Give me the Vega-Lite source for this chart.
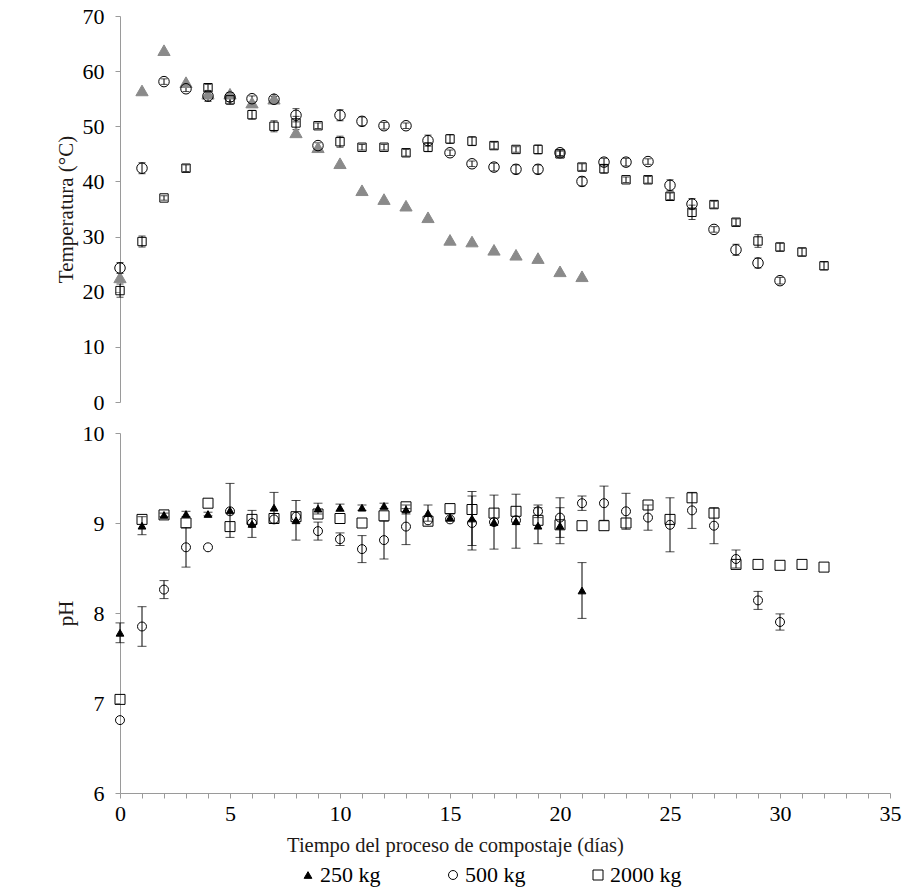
{
  "$schema": "https://vega.github.io/schema/vega-lite/v6.json",
  "padding": {"left": 55, "top": 5, "right": 5, "bottom": 5},
  "background": "white",
  "config": {
    "font": "Liberation Serif",
    "view": {"stroke": null},
    "legend": {"labelFont": "Liberation Serif", "titleFont": "Liberation Serif"},
    "axis": {"grid": false, "domainColor": "#9a9a9a", "tickColor": "#9a9a9a", "tickSize": 5, "labelColor": "black", "labelFontSize": 22, "titleFontSize": 21, "titleFontWeight": "normal", "titleColor": "#1e1a18", "labelFont": "Liberation Serif", "titleFont": "Liberation Serif"}
  },
  "datasets": {
    "temp": [
      {"dia":0,"serie":"250 kg","valor":22.6,"error":0},{"dia":1,"serie":"250 kg","valor":56.5,"error":0},{"dia":2,"serie":"250 kg","valor":63.8,"error":0},{"dia":3,"serie":"250 kg","valor":58.0,"error":0},{"dia":4,"serie":"250 kg","valor":55.9,"error":0},{"dia":5,"serie":"250 kg","valor":55.9,"error":0},{"dia":6,"serie":"250 kg","valor":54.3,"error":0},{"dia":7,"serie":"250 kg","valor":55.0,"error":0},{"dia":8,"serie":"250 kg","valor":48.9,"error":0},{"dia":9,"serie":"250 kg","valor":46.2,"error":0},{"dia":10,"serie":"250 kg","valor":43.3,"error":0},{"dia":11,"serie":"250 kg","valor":38.4,"error":0},{"dia":12,"serie":"250 kg","valor":36.8,"error":0},{"dia":13,"serie":"250 kg","valor":35.6,"error":0},{"dia":14,"serie":"250 kg","valor":33.5,"error":0},{"dia":15,"serie":"250 kg","valor":29.4,"error":0},{"dia":16,"serie":"250 kg","valor":29.1,"error":0},{"dia":17,"serie":"250 kg","valor":27.6,"error":0},{"dia":18,"serie":"250 kg","valor":26.7,"error":0},{"dia":19,"serie":"250 kg","valor":26.1,"error":0},{"dia":20,"serie":"250 kg","valor":23.7,"error":0},{"dia":21,"serie":"250 kg","valor":22.8,"error":0},
      {"dia":0,"serie":"500 kg","valor":24.3,"error":1},{"dia":1,"serie":"500 kg","valor":42.4,"error":1},{"dia":2,"serie":"500 kg","valor":58.1,"error":0.5},{"dia":3,"serie":"500 kg","valor":56.8,"error":0.5},{"dia":4,"serie":"500 kg","valor":55.5,"error":1},{"dia":5,"serie":"500 kg","valor":55.3,"error":0.8},{"dia":6,"serie":"500 kg","valor":55.0,"error":0.5},{"dia":7,"serie":"500 kg","valor":54.9,"error":0.5},{"dia":8,"serie":"500 kg","valor":52.0,"error":1.2},{"dia":9,"serie":"500 kg","valor":46.5,"error":0.5},{"dia":10,"serie":"500 kg","valor":52.0,"error":1},{"dia":11,"serie":"500 kg","valor":50.9,"error":0.8},{"dia":12,"serie":"500 kg","valor":50.1,"error":0.6},{"dia":13,"serie":"500 kg","valor":50.1,"error":0.5},{"dia":14,"serie":"500 kg","valor":47.4,"error":1},{"dia":15,"serie":"500 kg","valor":45.2,"error":0.5},{"dia":16,"serie":"500 kg","valor":43.2,"error":0.5},{"dia":17,"serie":"500 kg","valor":42.6,"error":0.7},{"dia":18,"serie":"500 kg","valor":42.2,"error":0.8},{"dia":19,"serie":"500 kg","valor":42.2,"error":0.8},{"dia":20,"serie":"500 kg","valor":45.2,"error":0.5},{"dia":21,"serie":"500 kg","valor":40.0,"error":0.8},{"dia":22,"serie":"500 kg","valor":43.5,"error":0.7},{"dia":23,"serie":"500 kg","valor":43.5,"error":0.7},{"dia":24,"serie":"500 kg","valor":43.6,"error":0.5},{"dia":25,"serie":"500 kg","valor":39.3,"error":1},{"dia":26,"serie":"500 kg","valor":35.9,"error":1},{"dia":27,"serie":"500 kg","valor":31.3,"error":0.5},{"dia":28,"serie":"500 kg","valor":27.6,"error":1},{"dia":29,"serie":"500 kg","valor":25.2,"error":0.9},{"dia":30,"serie":"500 kg","valor":22.0,"error":0.6},
      {"dia":0,"serie":"2000 kg","valor":20.2,"error":1.2},{"dia":1,"serie":"2000 kg","valor":29.1,"error":1},{"dia":2,"serie":"2000 kg","valor":37.0,"error":0.4},{"dia":3,"serie":"2000 kg","valor":42.4,"error":0.6},{"dia":4,"serie":"2000 kg","valor":57.0,"error":0.6},{"dia":5,"serie":"2000 kg","valor":54.8,"error":0.8},{"dia":6,"serie":"2000 kg","valor":52.1,"error":0.8},{"dia":7,"serie":"2000 kg","valor":50.0,"error":1},{"dia":8,"serie":"2000 kg","valor":50.6,"error":1.2},{"dia":9,"serie":"2000 kg","valor":50.1,"error":0.5},{"dia":10,"serie":"2000 kg","valor":47.2,"error":1},{"dia":11,"serie":"2000 kg","valor":46.2,"error":0.5},{"dia":12,"serie":"2000 kg","valor":46.2,"error":0.5},{"dia":13,"serie":"2000 kg","valor":45.2,"error":0.6},{"dia":14,"serie":"2000 kg","valor":46.2,"error":0.8},{"dia":15,"serie":"2000 kg","valor":47.7,"error":0.8},{"dia":16,"serie":"2000 kg","valor":47.3,"error":0.8},{"dia":17,"serie":"2000 kg","valor":46.5,"error":0.6},{"dia":18,"serie":"2000 kg","valor":45.8,"error":0.5},{"dia":19,"serie":"2000 kg","valor":45.8,"error":0.8},{"dia":20,"serie":"2000 kg","valor":45.0,"error":0.5},{"dia":21,"serie":"2000 kg","valor":42.6,"error":0.6},{"dia":22,"serie":"2000 kg","valor":42.3,"error":0.8},{"dia":23,"serie":"2000 kg","valor":40.3,"error":0.5},{"dia":24,"serie":"2000 kg","valor":40.3,"error":0.6},{"dia":25,"serie":"2000 kg","valor":37.3,"error":0.6},{"dia":26,"serie":"2000 kg","valor":34.4,"error":1.3},{"dia":27,"serie":"2000 kg","valor":35.8,"error":0.6},{"dia":28,"serie":"2000 kg","valor":32.6,"error":0.6},{"dia":29,"serie":"2000 kg","valor":29.2,"error":1.15},{"dia":30,"serie":"2000 kg","valor":28.1,"error":0.7},{"dia":31,"serie":"2000 kg","valor":27.2,"error":0.7},{"dia":32,"serie":"2000 kg","valor":24.7,"error":0.7}
    ],
    "ph": [
      {"dia":0,"serie":"250 kg","valor":7.78,"error":0.11},{"dia":1,"serie":"250 kg","valor":8.97,"error":0.1},{"dia":2,"serie":"250 kg","valor":9.09,"error":0.02},{"dia":3,"serie":"250 kg","valor":9.1,"error":0.03},{"dia":4,"serie":"250 kg","valor":9.1,"error":0.02},{"dia":5,"serie":"250 kg","valor":9.14,"error":0.3},{"dia":6,"serie":"250 kg","valor":8.99,"error":0.15},{"dia":7,"serie":"250 kg","valor":9.17,"error":0.17},{"dia":8,"serie":"250 kg","valor":9.03,"error":0.22},{"dia":9,"serie":"250 kg","valor":9.16,"error":0.06},{"dia":10,"serie":"250 kg","valor":9.17,"error":0.04},{"dia":11,"serie":"250 kg","valor":9.17,"error":0.03},{"dia":12,"serie":"250 kg","valor":9.19,"error":0.03},{"dia":13,"serie":"250 kg","valor":9.15,"error":0.05},{"dia":14,"serie":"250 kg","valor":9.11,"error":0.09},{"dia":15,"serie":"250 kg","valor":9.06,"error":0.04},{"dia":16,"serie":"250 kg","valor":9.05,"error":0.3},{"dia":17,"serie":"250 kg","valor":9.01,"error":0.3},{"dia":18,"serie":"250 kg","valor":9.02,"error":0.3},{"dia":19,"serie":"250 kg","valor":8.97,"error":0.2},{"dia":20,"serie":"250 kg","valor":8.97,"error":0.2},{"dia":21,"serie":"250 kg","valor":8.25,"error":0.31},
      {"dia":0,"serie":"500 kg","valor":6.81,"error":0},{"dia":1,"serie":"500 kg","valor":7.85,"error":0.22},{"dia":2,"serie":"500 kg","valor":8.26,"error":0.1},{"dia":3,"serie":"500 kg","valor":8.73,"error":0.22},{"dia":4,"serie":"500 kg","valor":8.73,"error":0},{"dia":5,"serie":"500 kg","valor":9.13,"error":0},{"dia":6,"serie":"500 kg","valor":9.0,"error":0},{"dia":7,"serie":"500 kg","valor":9.04,"error":0},{"dia":8,"serie":"500 kg","valor":9.07,"error":0},{"dia":9,"serie":"500 kg","valor":8.91,"error":0.1},{"dia":10,"serie":"500 kg","valor":8.82,"error":0.07},{"dia":11,"serie":"500 kg","valor":8.71,"error":0.15},{"dia":12,"serie":"500 kg","valor":8.81,"error":0.21},{"dia":13,"serie":"500 kg","valor":8.96,"error":0.2},{"dia":14,"serie":"500 kg","valor":9.03,"error":0},{"dia":15,"serie":"500 kg","valor":9.04,"error":0},{"dia":16,"serie":"500 kg","valor":9.0,"error":0.3},{"dia":17,"serie":"500 kg","valor":9.01,"error":0},{"dia":18,"serie":"500 kg","valor":9.03,"error":0},{"dia":19,"serie":"500 kg","valor":9.13,"error":0.07},{"dia":20,"serie":"500 kg","valor":9.06,"error":0.22},{"dia":21,"serie":"500 kg","valor":9.22,"error":0.08},{"dia":22,"serie":"500 kg","valor":9.22,"error":0.19},{"dia":23,"serie":"500 kg","valor":9.13,"error":0.2},{"dia":24,"serie":"500 kg","valor":9.06,"error":0.14},{"dia":25,"serie":"500 kg","valor":8.98,"error":0.3},{"dia":26,"serie":"500 kg","valor":9.14,"error":0.2},{"dia":27,"serie":"500 kg","valor":8.97,"error":0.2},{"dia":28,"serie":"500 kg","valor":8.6,"error":0.1},{"dia":29,"serie":"500 kg","valor":8.14,"error":0.1},{"dia":30,"serie":"500 kg","valor":7.9,"error":0.09},
      {"dia":0,"serie":"2000 kg","valor":7.04,"error":0},{"dia":1,"serie":"2000 kg","valor":9.04,"error":0},{"dia":2,"serie":"2000 kg","valor":9.09,"error":0},{"dia":3,"serie":"2000 kg","valor":9.0,"error":0},{"dia":4,"serie":"2000 kg","valor":9.22,"error":0},{"dia":5,"serie":"2000 kg","valor":8.96,"error":0},{"dia":6,"serie":"2000 kg","valor":9.04,"error":0},{"dia":7,"serie":"2000 kg","valor":9.05,"error":0},{"dia":8,"serie":"2000 kg","valor":9.07,"error":0},{"dia":9,"serie":"2000 kg","valor":9.1,"error":0},{"dia":10,"serie":"2000 kg","valor":9.05,"error":0},{"dia":11,"serie":"2000 kg","valor":9.0,"error":0},{"dia":12,"serie":"2000 kg","valor":9.08,"error":0},{"dia":13,"serie":"2000 kg","valor":9.18,"error":0},{"dia":14,"serie":"2000 kg","valor":9.02,"error":0},{"dia":15,"serie":"2000 kg","valor":9.16,"error":0},{"dia":16,"serie":"2000 kg","valor":9.15,"error":0},{"dia":17,"serie":"2000 kg","valor":9.11,"error":0},{"dia":18,"serie":"2000 kg","valor":9.13,"error":0},{"dia":19,"serie":"2000 kg","valor":9.03,"error":0},{"dia":20,"serie":"2000 kg","valor":8.98,"error":0},{"dia":21,"serie":"2000 kg","valor":8.97,"error":0},{"dia":22,"serie":"2000 kg","valor":8.97,"error":0},{"dia":23,"serie":"2000 kg","valor":9.0,"error":0},{"dia":24,"serie":"2000 kg","valor":9.2,"error":0},{"dia":25,"serie":"2000 kg","valor":9.04,"error":0},{"dia":26,"serie":"2000 kg","valor":9.28,"error":0},{"dia":27,"serie":"2000 kg","valor":9.11,"error":0},{"dia":28,"serie":"2000 kg","valor":8.54,"error":0},{"dia":29,"serie":"2000 kg","valor":8.54,"error":0},{"dia":30,"serie":"2000 kg","valor":8.53,"error":0},{"dia":31,"serie":"2000 kg","valor":8.54,"error":0},{"dia":32,"serie":"2000 kg","valor":8.51,"error":0}
    ]
  },
  "vconcat": [
    {
      "width": 770, "height": 386,
      "data": {"name": "temp"},
      "encoding": {
        "x": {"field": "dia", "type": "quantitative", "scale": {"domain": [0, 35], "nice": false}, "axis": null},
        "y": {"field": "valor", "type": "quantitative", "title": "Temperatura (°C)", "scale": {"domain": [0, 70], "nice": false},
              "axis": {"values": [0,10,20,30,40,50,60,70], "labelPadding": 11, "titlePadding": 6}}
      },
      "layer": [
        {
          "transform": [{"filter": "datum.error > 0"}],
          "mark": {"type": "errorbar", "ticks": {"size": 7}, "color": "black", "thickness": 1},
          "encoding": {"yError": {"field": "error"}}
        },
        {
          "mark": {"type": "point", "filled": true, "strokeWidth": 1, "opacity": 1},
          "encoding": {
            "shape": {"field": "serie", "type": "nominal", "scale": {"domain": ["250 kg","500 kg","2000 kg"], "range": ["triangle-up","circle","square"]}, "legend": null},
            "fill": {"field": "serie", "type": "nominal", "scale": {"domain": ["250 kg","500 kg","2000 kg"], "range": ["#8a8a8a","transparent","transparent"]}, "legend": null},
            "stroke": {"field": "serie", "type": "nominal", "scale": {"domain": ["250 kg","500 kg","2000 kg"], "range": ["#8a8a8a","black","black"]}, "legend": null},
            "size": {"field": "serie", "type": "nominal", "scale": {"domain": ["250 kg","500 kg","2000 kg"], "range": [150, 70, 40]}, "legend": null}
          }
        }
      ]
    },
    {
      "width": 770, "height": 360,
      "data": {"name": "ph"},
      "encoding": {
        "x": {"field": "dia", "type": "quantitative", "title": "Tiempo del proceso de compostaje (días)", "scale": {"domain": [0, 35], "nice": false},
              "axis": {"values": [0,1,2,3,4,5,6,7,8,9,10,11,12,13,14,15,16,17,18,19,20,21,22,23,24,25,26,27,28,29,30,31,32,33,34,35], "labelExpr": "datum.value % 5 == 0 ? datum.label : ''", "labelOverlap": false, "labelFlush": false, "labelBound": false, "labelPadding": 5, "titlePadding": 11, "titleFontSize": 20.5, "titleX": 335}},
        "y": {"field": "valor", "type": "quantitative", "title": "pH", "scale": {"domain": [6, 10], "nice": false},
              "axis": {"values": [6,7,8,9,10], "format": "d", "labelPadding": 11, "titlePadding": 6}}
      },
      "layer": [
        {
          "transform": [{"filter": "datum.error > 0"}],
          "mark": {"type": "errorbar", "ticks": {"size": 9}, "color": "black", "thickness": 1},
          "encoding": {"yError": {"field": "error"}}
        },
        {
          "mark": {"type": "point", "filled": true, "strokeWidth": 1, "opacity": 1, "stroke": "black"},
          "encoding": {
            "shape": {"field": "serie", "type": "nominal", "title": null, "scale": {"domain": ["250 kg","500 kg","2000 kg"], "range": ["triangle-up","circle","square"]},
                      "legend": {"orient": "none", "legendX": 177, "legendY": 431, "direction": "horizontal", "columns": 3, "columnPadding": 61, "labelFontSize": 22, "labelFont": "Liberation Serif", "labelColor": "black", "symbolStrokeWidth": 1, "symbolStrokeColor": "black", "labelOffset": 1}},
            "fill": {"field": "serie", "type": "nominal", "title": null, "scale": {"domain": ["250 kg","500 kg","2000 kg"], "range": ["black","transparent","transparent"]}},
            "size": {"field": "serie", "type": "nominal", "title": null, "scale": {"domain": ["250 kg","500 kg","2000 kg"], "range": [60, 100, 70]}}
          }
        }
      ]
    }
  ],
  "spacing": 31,
  "bounds": "flush",
  "resolve": {
    "scale": {"shape": "independent", "fill": "independent", "stroke": "independent", "size": "independent"},
    "legend": {"shape": "independent", "fill": "independent", "stroke": "independent", "size": "independent"}
  }
}
